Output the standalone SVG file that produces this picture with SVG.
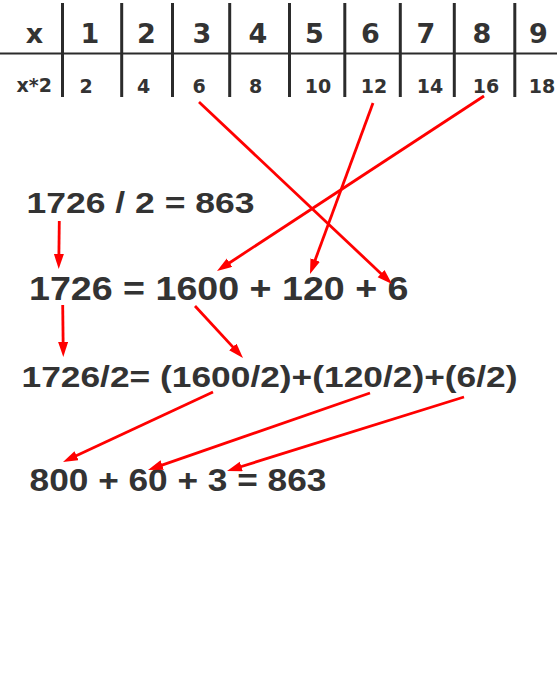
<svg xmlns="http://www.w3.org/2000/svg" width="557" height="680" viewBox="0 0 557 680">
<defs>
<marker id="ah" markerUnits="userSpaceOnUse" markerWidth="16" markerHeight="11" refX="4" refY="5" orient="auto">
<path d="M0,0 L15,5 L0,10 z" fill="#ff0000"/>
</marker>
<style>
.grid{stroke:#2b2b2b;fill:none}
.th{font-family:"DejaVu Sans",sans-serif;font-weight:bold;font-size:27px;fill:#333;text-anchor:middle}
.td{font-family:"DejaVu Sans",sans-serif;font-weight:bold;font-size:19px;fill:#333;text-anchor:middle}
.eq{font-family:"Liberation Sans",Arial,sans-serif;font-weight:bold;fill:#333}
.arr{stroke:#ff0000;stroke-width:2.8;fill:none;marker-end:url(#ah)}
</style>
</defs>
<rect width="557" height="680" fill="#ffffff"/>
<g id="table">
<line class="grid" x1="0" y1="53.5" x2="557" y2="53.5" stroke-width="2"/>
<g class="grid" stroke-width="3">
<line x1="62.5" y1="3" x2="62.5" y2="97"/>
<line x1="121.7" y1="3" x2="121.7" y2="97"/>
<line x1="172.5" y1="3" x2="172.5" y2="97"/>
<line x1="229.7" y1="3" x2="229.7" y2="97"/>
<line x1="289.5" y1="3" x2="289.5" y2="97"/>
<line x1="344.8" y1="3" x2="344.8" y2="97"/>
<line x1="400.3" y1="3" x2="400.3" y2="97"/>
<line x1="454.3" y1="3" x2="454.3" y2="97"/>
<line x1="514.8" y1="3" x2="514.8" y2="97"/>
</g>
<g id="header-row">
<text class="th" x="34.5" y="43">x</text>
<text class="th" x="90" y="43">1</text>
<text class="th" x="146.5" y="43">2</text>
<text class="th" x="202" y="43">3</text>
<text class="th" x="258" y="43">4</text>
<text class="th" x="314.5" y="43">5</text>
<text class="th" x="370.5" y="43">6</text>
<text class="th" x="426" y="43">7</text>
<text class="th" x="482" y="43">8</text>
<text class="th" x="538.5" y="43">9</text>
</g>
<g id="value-row">
<text class="td" x="34.2" y="92">x*2</text>
<text class="td" x="86" y="93">2</text>
<text class="td" x="143.5" y="93">4</text>
<text class="td" x="199" y="93">6</text>
<text class="td" x="255.5" y="93">8</text>
<text class="td" x="318" y="93">10</text>
<text class="td" x="374" y="93">12</text>
<text class="td" x="430" y="93">14</text>
<text class="td" x="486" y="93">16</text>
<text class="td" x="542" y="93">18</text>
</g>
</g>
<g id="eq1"><text class="eq" x="26.5" y="213" font-size="30" textLength="228" lengthAdjust="spacingAndGlyphs">1726 / 2 = 863</text></g>
<g id="eq2"><text class="eq" x="29" y="300" font-size="32.5" textLength="379.5" lengthAdjust="spacingAndGlyphs">1726 = 1600 + 120 + 6</text></g>
<g id="eq3"><text class="eq" x="21.5" y="387" font-size="30" textLength="496" lengthAdjust="spacingAndGlyphs">1726/2= (1600/2)+(120/2)+(6/2)</text></g>
<g id="eq4"><text class="eq" x="29.6" y="491" font-size="30.7" textLength="296.8" lengthAdjust="spacingAndGlyphs">800 + 60 + 3 = 863</text></g>
<g id="connectors">
<line class="arr" x1="199" y1="102" x2="384" y2="276.45"/>
<line class="arr" x1="373" y1="103" x2="313.8" y2="263.68"/>
<line class="arr" x1="484" y1="96" x2="226.2" y2="264.97"/>
<line class="arr" x1="59.3" y1="221" x2="58.84" y2="258"/>
<line class="arr" x1="62.7" y1="305" x2="63.17" y2="346"/>
<line class="arr" x1="195" y1="306" x2="235.54" y2="349.92"/>
<line class="arr" x1="213" y1="392" x2="72.97" y2="457.35"/>
<line class="arr" x1="370" y1="393" x2="158.39" y2="466.4"/>
<line class="arr" x1="464" y1="397" x2="237.5" y2="467.72"/>
</g>
</svg>
